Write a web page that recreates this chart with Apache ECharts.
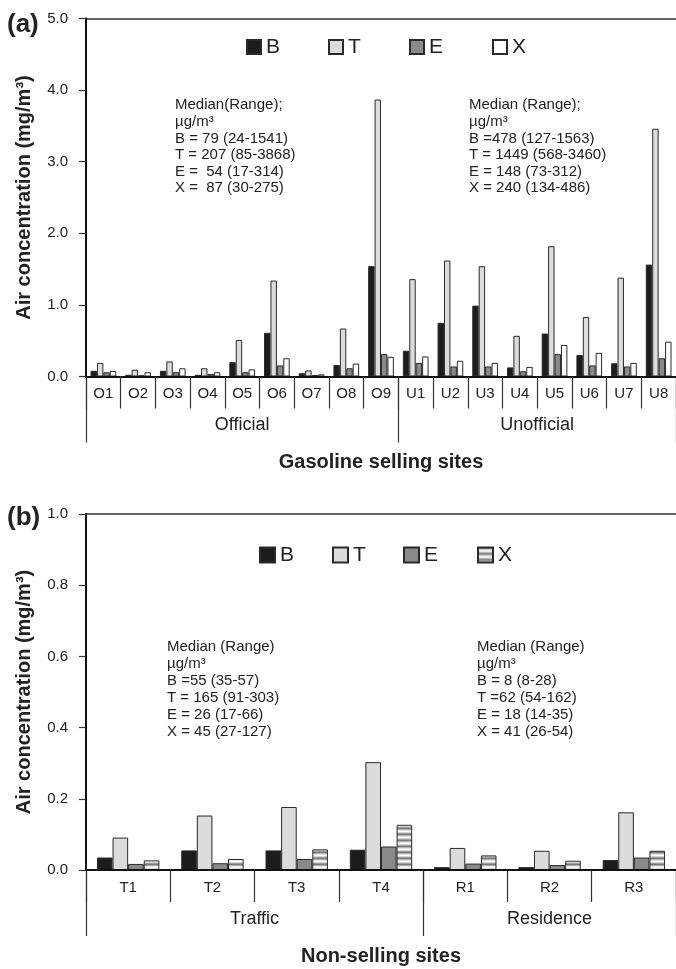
<!DOCTYPE html>
<html><head><meta charset="utf-8">
<script src="https://cdn.jsdelivr.net/npm/echarts@6/dist/echarts.min.js"></script>
<style>html,body{margin:0;padding:0;background:#fff}#c{width:676px;height:969px}</style>
</head><body><div id="c"></div>
<script>
// ---- data (mg/m3) ----
const topCategories = ['O1','O2','O3','O4','O5','O6','O7','O8','O9','U1','U2','U3','U4','U5','U6','U7','U8'];
const topB = [0.08,0.024,0.08,0.024,0.20,0.61,0.045,0.16,1.541, 0.36,0.75,0.99,0.127,0.60,0.30,0.185,1.563];
const topT = [0.19,0.095,0.21,0.115,0.51,1.34,0.085,0.67,3.868, 1.36,1.62,1.54,0.568,1.82,0.83,1.38,3.46];
const topE = [0.06,0.017,0.06,0.035,0.06,0.155,0.02,0.115,0.314, 0.19,0.14,0.14,0.073,0.312,0.155,0.14,0.255];
const topX = [0.077,0.06,0.115,0.06,0.10,0.255,0.03,0.18,0.275, 0.28,0.22,0.19,0.134,0.44,0.33,0.19,0.486];
const topGroups = ['Official','Unofficial'];
const topGroupBounds = [0, 9, 17];

const botCategories = ['T1','T2','T3','T4','R1','R2','R3'];
const botB = [0.035,0.055,0.055,0.057,0.008,0.008,0.028];
const botT = [0.091,0.153,0.177,0.303,0.062,0.054,0.162];
const botE = [0.017,0.019,0.031,0.066,0.018,0.014,0.035];
const botX = [0.027,0.031,0.058,0.127,0.041,0.026,0.054];
const botGroups = ['Traffic','Residence'];
const botGroupBounds = [0, 4, 7];

const seriesNames = ['B','T','E','X'];
const topNote = ['Median(Range);','µg/m³','B = 79 (24-1541)','T = 207 (85-3868)','E =  54 (17-314)','X =  87 (30-275)'];
const topNote2 = ['Median (Range);','µg/m³','B =478 (127-1563)','T = 1449 (568-3460)','E = 148 (73-312)','X = 240 (134-486)'];
const botNote = ['Median (Range)','µg/m³','B =55 (35-57)','T = 165 (91-303)','E = 26 (17-66)','X = 45 (27-127)'];
const botNote2 = ['Median (Range)','µg/m³','B = 8 (8-28)','T =62 (54-162)','E = 18 (14-35)','X = 41 (26-54)'];

// ---- styling ----
const FF = '"Liberation Sans", Arial, sans-serif';
const TXT = '#222';
function stripePattern(){
  const c = document.createElement('canvas'); c.width = 8; c.height = 6;
  const g = c.getContext('2d');
  const rows = ['#7a7a7a','#b0b0b0','#e4e4e4','#ffffff','#d4d4d4','#9c9c9c'];
  rows.forEach((col,i)=>{ g.fillStyle = col; g.fillRect(0,i,8,1); });
  return c;
}
const fills = {B:'#1c1c1c', T:'#dcdcdc', E:'#8a8a8a', X:'#ffffff'};
const xStripe = {image: stripePattern(), repeat:'repeat'};

const chart = echarts.init(document.getElementById('c'), null, {renderer:'canvas'});

function mids(b){ const m=[]; for(let i=0;i<b.length-1;i++) m.push((b[i]+b[i+1])/2); return m; }
const topMids = mids(topGroupBounds), botMids = mids(botGroupBounds);

const G0 = {left:86, top:18.5, width:597, height:358};
const G1 = {left:86, top:514, width:597, height:356};

function catAxis(grid, data){
  return {gridIndex:grid, type:'category', data:data, position:'bottom',
    axisLine:{show:true, lineStyle:{color:'#111', width:2}},
    axisTick:{show:true, interval:0, length:32, lineStyle:{color:'#333', width:1.2}},
    axisLabel:{interval:0, margin:10, fontSize:15, color:TXT, fontFamily:FF},
    splitLine:{show:false}, z:5};
}
function borderAxis(grid){
  return {gridIndex:grid, type:'value', min:0, max:1, position:'top',
    axisLine:{show:true, lineStyle:{color:'#333', width:1.5}},
    axisTick:{show:false}, axisLabel:{show:false}, splitLine:{show:false}};
}
function groupAxis(grid, bounds, m, names, title){
  return {gridIndex:grid, type:'value', min:0, max:bounds[bounds.length-1], position:'bottom',
    axisLine:{show:false}, splitLine:{show:false},
    axisTick:{show:true, customValues:bounds, length:66, lineStyle:{color:'#333', width:1.2}},
    axisLabel:{show:true, customValues:m, margin:40, fontSize:18, color:TXT, fontFamily:FF,
      formatter:(v)=>{ const i=m.findIndex(x=>Math.abs(x-v)<1e-6); return i>=0?names[i]:''; }},
    name:title, nameLocation:'middle', nameGap:76,
    nameTextStyle:{fontSize:20, fontWeight:'bold', color:TXT, fontFamily:FF}};
}
function valAxis(grid, max, interval){
  return {gridIndex:grid, type:'value', min:0, max:max, interval:interval,
    axisLine:{show:true, lineStyle:{color:'#111', width:2}},
    axisTick:{show:true, inside:false, length:7, lineStyle:{color:'#333', width:1.2}},
    axisLabel:{margin:18, fontSize:15, color:TXT, fontFamily:FF, formatter:v=>v.toFixed(1)},
    splitLine:{show:false},
    name:'Air concentration (mg/m³)', nameLocation:'middle', nameGap:52, nameRotate:90,
    nameTextStyle:{fontSize:20, fontWeight:'bold', color:TXT, fontFamily:FF}, z:6};
}
function hiddenY(grid){ return {gridIndex:grid, type:'value', min:0, max:1, show:false}; }

function bars(grid, suffix, arrs, xStyle){
  return seriesNames.map((n,i)=>({
    name:n+suffix, type:'bar', xAxisIndex:grid, yAxisIndex:grid, data:arrs[i],
    barGap:'0%', barCategoryGap:'26%',
    itemStyle:{color: n==='X' ? xStyle : fills[n], borderColor:'#2a2a2a', borderWidth:1},
    emphasis:{disabled:true}, animation:false
  }));
}

function legendItems(suffix, lefts, top, size){
  return seriesNames.map((n,i)=>({
    data:[n+suffix], left:lefts[i], top:top, padding:0, itemWidth:size, itemHeight:size, itemGap:0,
    icon:'rect', selectedMode:false, formatter:(name)=>name.charAt(0),
    textStyle:{fontSize:21, color:TXT, fontFamily:FF, lineHeight:22, padding:[0,0,0,0]}
  }));
}

function note(lines, left, top, lh){
  return {type:'text', left:left, top:top, style:{text:lines.join('\n'), font:'15px '+FF, fill:TXT, lineHeight:lh}};
}

const option = {
  backgroundColor:'#fff', animation:false,
  grid:[Object.assign({}, G0), Object.assign({}, G1), Object.assign({}, G0), Object.assign({}, G1)],
  xAxis:[ catAxis(0, topCategories), catAxis(1, botCategories),
          groupAxis(2, topGroupBounds, topMids, topGroups, 'Gasoline selling sites'),
          groupAxis(3, botGroupBounds, botMids, botGroups, 'Non-selling sites'),
          borderAxis(2), borderAxis(3) ],
  yAxis:[ valAxis(0, 5, 1), valAxis(1, 1, 0.2), hiddenY(2), hiddenY(3) ],
  legend:[].concat(legendItems('', [246,328,409,492], 36, 14), legendItems('2', [259,332,403,477], 544, 15)),
  series:[].concat(bars(0,'',[topB,topT,topE,topX], fills.X), bars(1,'2',[botB,botT,botE,botX], xStripe)),
  graphic:[
    note(topNote, 175, 97, 16.6), note(topNote2, 469, 97, 16.6),
    note(botNote, 167, 638, 17), note(botNote2, 477, 638, 17),
    {type:'text', left:7, top:12, style:{text:'(a)', font:'bold 26px '+FF, fill:TXT}},
    {type:'text', left:7, top:505, style:{text:'(b)', font:'bold 26px '+FF, fill:TXT}}
  ]
};
chart.setOption(option);
</script></body></html>
